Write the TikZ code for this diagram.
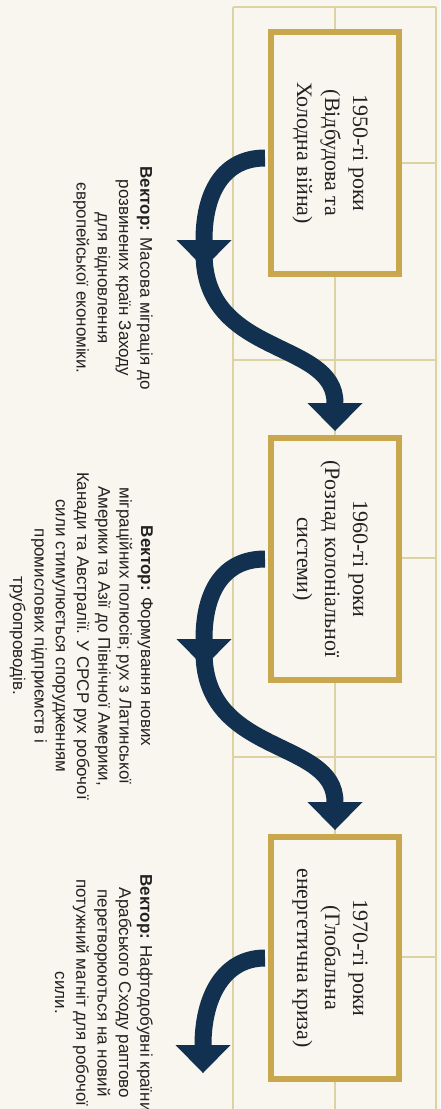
\documentclass[tikz,border=0pt]{standalone}
\usepackage{fontspec}
\setmainfont{Liberation Serif}
\setsansfont{Liberation Sans}
\usetikzlibrary{arrows.meta, positioning, calc}
\definecolor{paperCream}{HTML}{F8F6EE}
\definecolor{gridGold}{HTML}{DDD2A4}
\definecolor{frameGold}{HTML}{C9A74E}
\definecolor{arrowNavy}{HTML}{12304F}
\definecolor{textDark}{HTML}{222222}

\begin{document}
\begin{tikzpicture}[x=1pt, y=-1pt,
    grid/.style={draw=gridGold, line width=1.2pt},
    era/.style={rectangle, draw=frameGold, line width=6pt, fill=paperCream,
                minimum width=128pt, minimum height=242pt, inner sep=0pt},
    eratext/.style={rotate=-90, align=center, inner sep=0pt,
                    font=\fontsize{22}{28}\selectfont\color{textDark}},
    vec/.style={rotate=-90, anchor=north, align=center, inner sep=0pt,
                font=\sffamily\fontsize{17}{21.3}\selectfont\color{textDark}},
    flow/.style={draw=arrowNavy, line width=17pt},
    flowhead/.style={flow, -{Triangle[width=55pt, length=28pt, line width=0pt]}},
  ]
    \useasboundingbox (0,0) rectangle (440,1109);
    \clip (0,0) rectangle (440,1109);
    \fill[paperCream] (0,0) rectangle (440,1109);

    \draw[grid] (233,7) -- (233,1109);
    \draw[grid] (335,7) -- (335,1109);
    \draw[grid] (436,7) -- (436,1109);
    \foreach \y in {7,360,757}
      \draw[grid] (233,\y) -- (436,\y);
    \foreach \y in {163,558,957}
      \draw[grid] (335,\y) -- (436,\y);

    \node[era] (box1) at (335,153) {};
    \node[era] (box2) at (335,559) {};
    \node[era] (box3) at (335,958) {};
    \node[eratext] (era1) at (330,153) {1950-ті роки\\(Відбудова та\\Холодна війна)};
    \node[eratext] (era2) at (330,559) {1960-ті роки\\(Розпад колоніальної\\системи)};
    \node[eratext] (era3) at (330,958) {1970-ті роки\\(Глобальна\\енергетична криза)};

    \coordinate (dip1) at (204,268);
    \coordinate (dip2) at (204,667);
    \coordinate (dip3) at (203,1073);
    \draw[flowhead, shorten <=3pt] ([yshift=-5pt]box1.west)
      .. controls +(-45,0) and +(0,-75) .. (dip1);
    \draw[flowhead, shorten >=4pt] ([yshift=15pt]dip1)
      .. controls +(0,105) and +(0,-96) .. (box2.north);
    \draw[flowhead, shorten <=3pt] (box2.west)
      .. controls +(-45,0) and +(0,-75) .. (dip2);
    \draw[flowhead, shorten >=4pt] ([yshift=15pt]dip2)
      .. controls +(0,105) and +(0,-96) .. (box3.north);
    \draw[flowhead, shorten <=3pt] (box3.west)
      .. controls +(-45,0) and +(0,-75) .. (dip3);

    \node[vec] (vec1) at (153,278)
      {\textbf{Вектор:} Масова міграція до\\розвинених країн Заходу\\для відновлення\\європейської економіки.};
    \node[vec] (vec2) at (153,636)
      {\textbf{Вектор:} Формування нових\\міграційних полюсів; рух з Латинської\\Америки та Азії до Північної Америки,\\Канади та Австралії. У СРСР рух робочої\\сили стимулюється спорудженням\\промислових підприємств і\\трубопроводів.};
    \node[vec] (vec3) at (153,993)
      {\textbf{Вектор:} Нафтодобувні країни\\Арабського Сходу раптово\\перетворюються на новий\\потужний магніт для робочої\\сили.};
  \end{tikzpicture}
\end{document}
